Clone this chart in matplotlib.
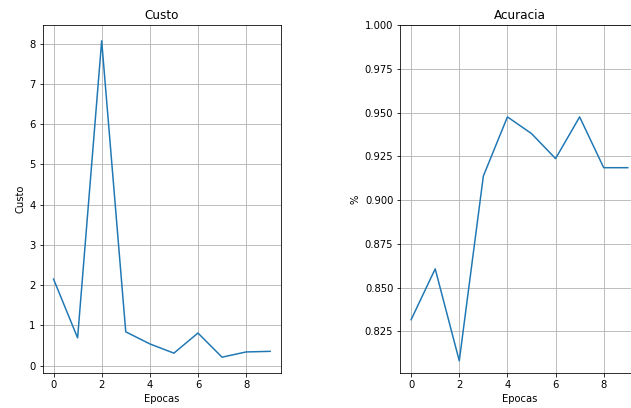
import numpy as np
import matplotlib
matplotlib.use("Agg")
import matplotlib.pyplot as plt

# -----------------------------------
# Data
# -----------------------------------

epocas = np.arange(10)

custo = [2.15, 0.69, 8.07, 0.84, 0.54, 0.31, 0.81, 0.21, 0.34, 0.355]

acuracia = [0.8317, 0.8607, 0.8082, 0.9137, 0.9475,
            0.9380, 0.9237, 0.9475, 0.9185, 0.9185]

# -----------------------------------
# Figure
# -----------------------------------

fig = plt.figure(figsize=(631 / 72, 408 / 72), dpi=72)

W, H = 631.0, 408.0
ax1 = fig.add_axes([42.7 / W, 35 / H, 238.3 / W, 348 / H])
ax2 = fig.add_axes([400.3 / W, 35 / H, 238.3 / W, 348 / H])

# Custo
ax1.plot(epocas, custo)
ax1.set_title("Custo")
ax1.set_xlabel("Epocas")
ax1.set_ylabel("Custo")
ax1.grid(True)

# Acuracia
ax2.plot(epocas, acuracia)
ax2.set_ylim(top=1.0)
ax2.set_title("Acuracia")
ax2.set_xlabel("Epocas")
ax2.set_ylabel("%")
ax2.grid(True)

fig.savefig("out.png", dpi=72)
